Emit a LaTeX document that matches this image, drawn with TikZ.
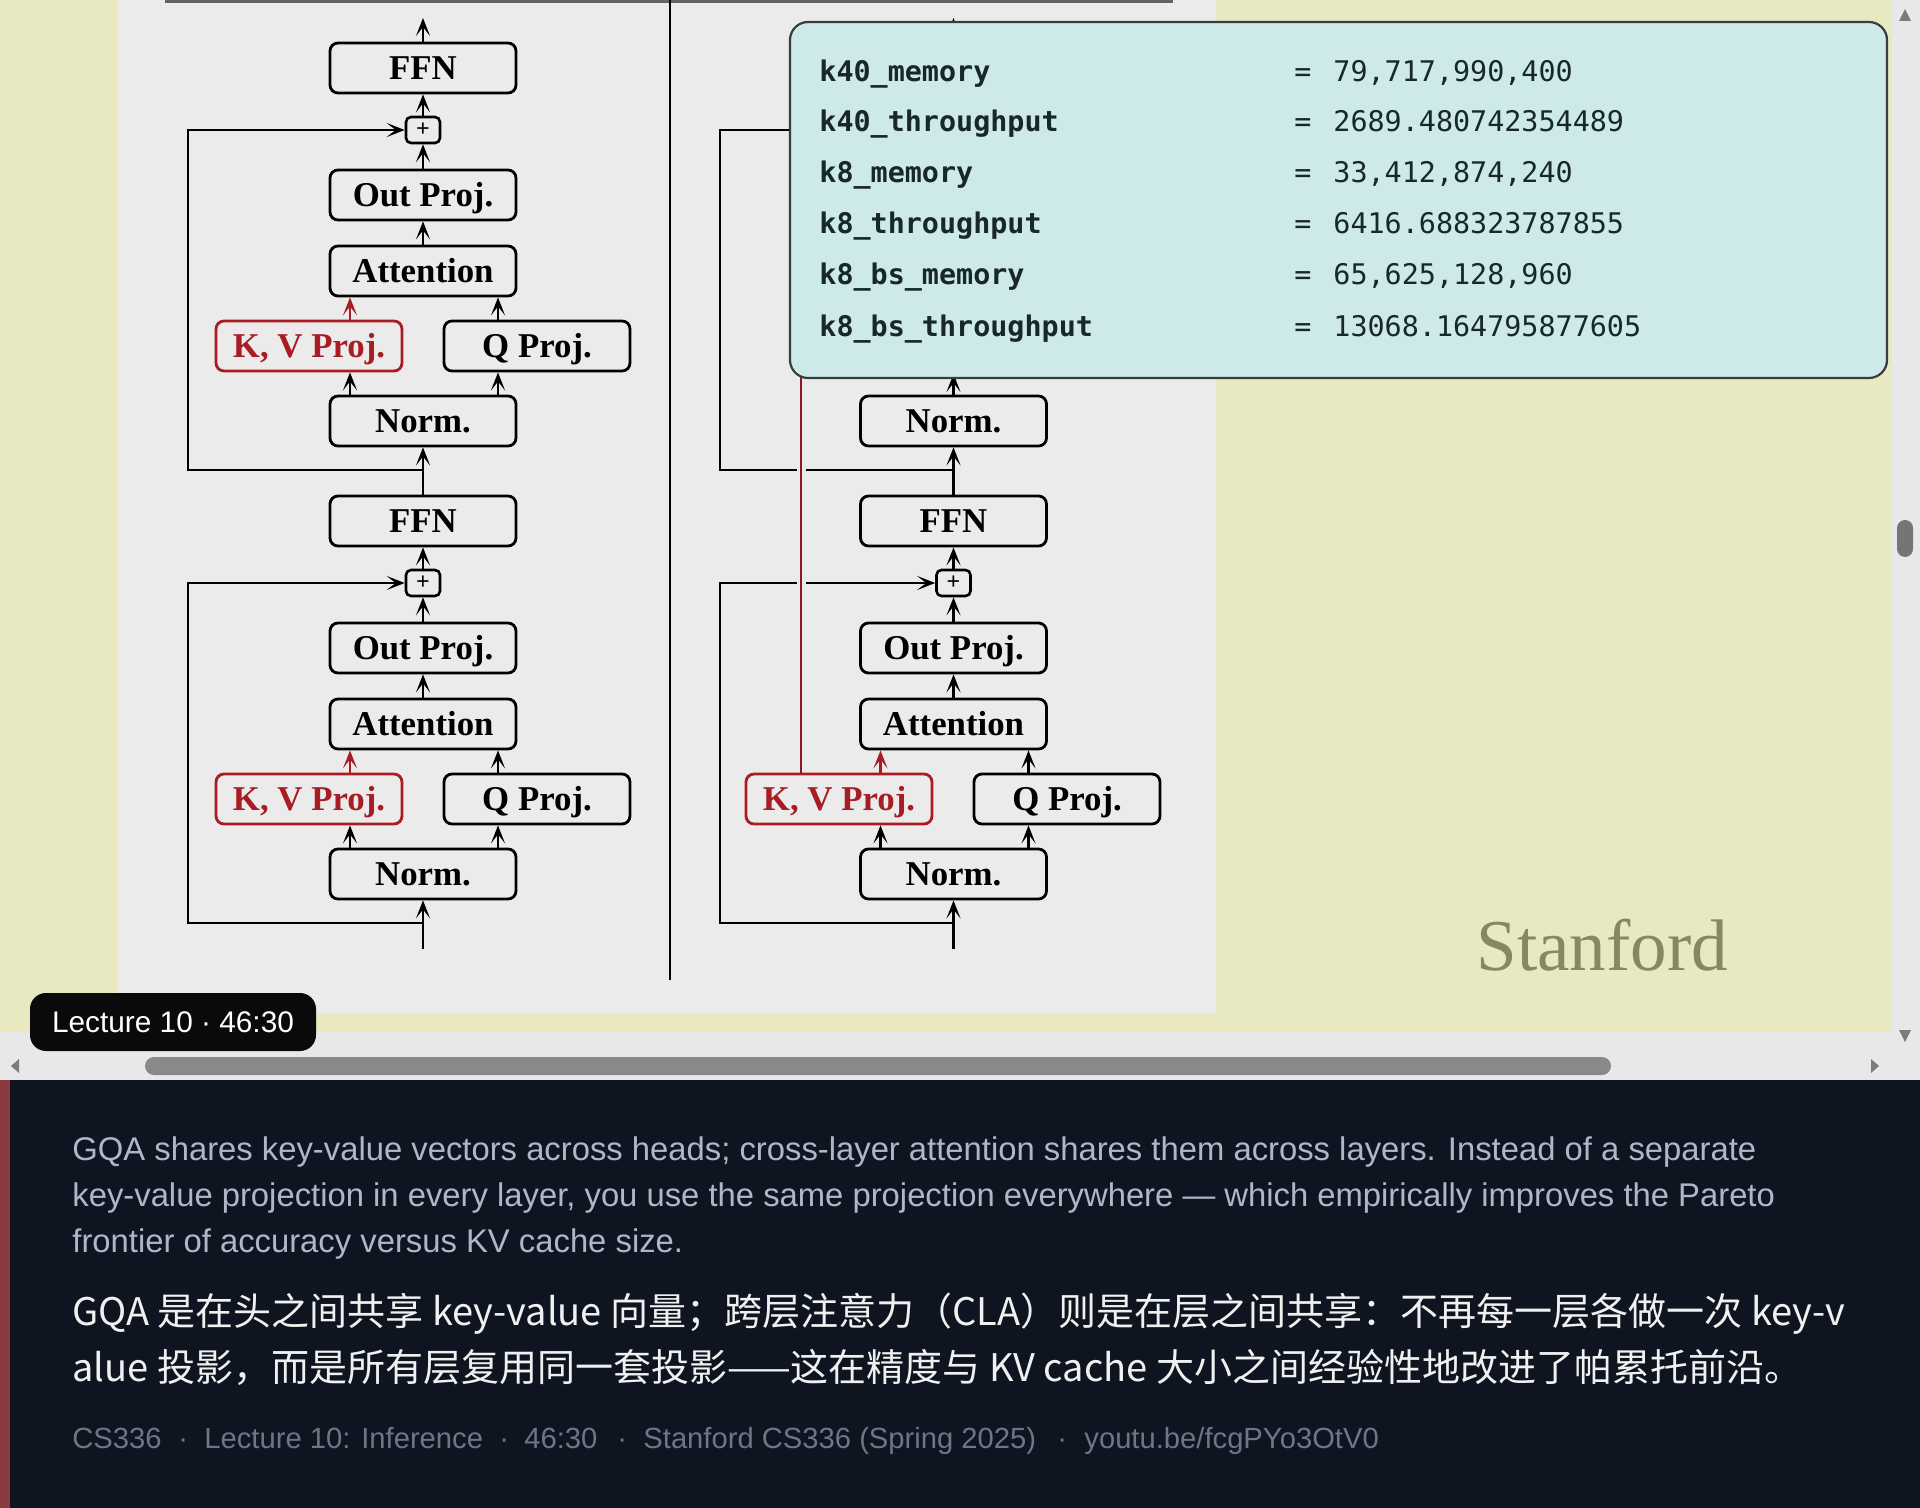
\documentclass[tikz,border=0pt]{standalone}
\usepackage{fontspec}
\setmainfont{Liberation Serif}
\newfontfamily\sansf{Liberation Sans}
\newfontfamily\monof{DejaVu Sans Mono}
\newfontfamily\cjkf{Noto Sans CJK SC}
\usetikzlibrary{arrows.meta}
\definecolor{ylw}{RGB}{232,233,192}
\definecolor{panel}{RGB}{235,235,235}
\definecolor{sbar}{RGB}{232,232,232}
\definecolor{thumb}{RGB}{137,137,137}
\definecolor{kvred}{RGB}{168,28,36}
\definecolor{tipfill}{RGB}{206,234,232}
\definecolor{tipline}{RGB}{55,62,64}
\definecolor{tiptext}{RGB}{24,38,46}
\definecolor{darkbg}{RGB}{15,21,32}
\definecolor{stripe}{RGB}{140,58,64}
\definecolor{captxt}{RGB}{172,184,202}
\definecolor{foot}{RGB}{108,118,135}
\definecolor{stan}{RGB}{135,135,100}
\definecolor{topline}{RGB}{100,100,100}
\begin{document}
\begin{tikzpicture}[x=0.5pt,y=-0.5pt,
  blk/.style={draw=black, line width=1.4pt, rounded corners=4pt, minimum width=93pt, minimum height=25pt, inner sep=0pt, text height=11.4pt, text depth=0pt, font=\fontsize{17.4}{20}\selectfont\bfseries, fill=panel},
  kvblk/.style={blk, draw=kvred, text=kvred},
  plusblk/.style={draw=black, line width=1.3pt, rounded corners=2.5pt, minimum width=17pt, minimum height=13pt, inner sep=0pt, font=\fontsize{12}{12}\selectfont\bfseries, fill=panel},
  ln/.style={line width=1.4pt},
  arr/.style={line width=1.4pt, -{Stealth[length=9pt,width=7pt,inset=4.5pt]}},
  rarr/.style={arr, draw=kvred},
  keyt/.style={anchor=base west, inner sep=0pt, text=tiptext, font=\monof\fontsize{14.2}{16}\selectfont\bfseries},
  valt/.style={anchor=base west, inner sep=0pt, text=tiptext, font=\monof\fontsize{14.2}{16}\selectfont},
  capt/.style={anchor=base west, inner sep=0pt, text=captxt, font=\sansf\fontsize{16.4}{20}\selectfont},
  cjkt/.style={anchor=base west, inner sep=0pt, text=white!94!black, font=\cjkf\fontsize{19}{24}\selectfont},
  foott/.style={anchor=base west, inner sep=0pt, text=foot, font=\sansf\fontsize{14.6}{18}\selectfont},
  tri/.style={fill=thumb!90!black}
]
\useasboundingbox (0,0) rectangle (1920,1508);
% ---------- backgrounds ----------
\fill[ylw] (0,0) rectangle (1892,1032);
\fill[panel] (117,0) rectangle (1216,1013);
\fill[sbar] (1892,0) rectangle (1920,1080);
\fill[sbar] (0,1032) rectangle (1892,1080);
\fill[thumb, rounded corners=4.5pt] (145,1057) rectangle (1611,1075);
\fill[thumb!85!black, rounded corners=4pt] (1897,520) rectangle (1913,557);
\fill[tri] (1899,21) -- (1911,21) -- (1905,9) -- cycle;
\fill[tri] (1899,1030) -- (1911,1030) -- (1905,1042) -- cycle;
\fill[tri] (19,1059) -- (19,1073) -- (11,1066) -- cycle;
\fill[tri] (1871,1059) -- (1871,1073) -- (1879,1066) -- cycle;
\fill[darkbg] (0,1080) rectangle (1920,1508);
\fill[stripe] (0,1080) rectangle (10,1508);
% slide decorations
\draw[topline, line width=1.6pt] (165,1.5) -- (1173,1.5);
\draw[line width=0.7pt] (670,0) -- (670,980);
% ---------- left column ----------
\node[blk] (L1ffn) at (423,68) {FFN};
\node[plusblk] (L1plus) at (423,130) {+};
\node[blk] (L1out) at (423,195) {Out Proj.};
\node[blk] (L1att) at (423,271) {Attention};
\node[kvblk] (L1kv) at (309,346) {K, V Proj.};
\node[blk] (L1q) at (537,346) {Q Proj.};
\node[blk] (L1norm) at (423,421) {Norm.};
\coordinate (L1jn) at (423,470);
\coordinate (L1res) at (188,470);
\node[blk] (L2ffn) at (423,521) {FFN};
\node[plusblk] (L2plus) at (423,583) {+};
\node[blk] (L2out) at (423,648) {Out Proj.};
\node[blk] (L2att) at (423,724) {Attention};
\node[kvblk] (L2kv) at (309,799) {K, V Proj.};
\node[blk] (L2q) at (537,799) {Q Proj.};
\node[blk] (L2norm) at (423,874) {Norm.};
\coordinate (L2jn) at (423,923);
\coordinate (L2res) at (188,923);
\coordinate (Lbot) at (423,949);
\coordinate (Ltop) at (423,18);
% connectors left
\draw[arr] (Lbot) -- (L2norm.south);
\draw[arr] (L2jn) -- (L2res) |- (L2plus.west);
\draw[arr] ([xshift=-36.5pt]L2norm.north) -- ([xshift=-36.5pt]L2norm.north |- L2kv.south);
\draw[arr] ([xshift=37.5pt]L2norm.north) -- ([xshift=37.5pt]L2norm.north |- L2q.south);
\draw[rarr] ([xshift=-36.5pt]L2att.south |- L2kv.north) -- ([xshift=-36.5pt]L2att.south);
\draw[arr] ([xshift=37.5pt]L2att.south |- L2q.north) -- ([xshift=37.5pt]L2att.south);
\draw[arr] (L2att.north) -- (L2out.south);
\draw[arr] (L2out.north) -- (L2plus.south);
\draw[arr] (L2plus.north) -- (L2ffn.south);
\draw[arr] (L2ffn.north) -- (L1norm.south);
\draw[arr] (L1jn) -- (L1res) |- (L1plus.west);
\draw[arr] ([xshift=-36.5pt]L1norm.north) -- ([xshift=-36.5pt]L1norm.north |- L1kv.south);
\draw[arr] ([xshift=37.5pt]L1norm.north) -- ([xshift=37.5pt]L1norm.north |- L1q.south);
\draw[rarr] ([xshift=-36.5pt]L1att.south |- L1kv.north) -- ([xshift=-36.5pt]L1att.south);
\draw[arr] ([xshift=37.5pt]L1att.south |- L1q.north) -- ([xshift=37.5pt]L1att.south);
\draw[arr] (L1att.north) -- (L1out.south);
\draw[arr] (L1out.north) -- (L1plus.south);
\draw[arr] (L1plus.north) -- (L1ffn.south);
\draw[arr] (L1ffn.north) -- (Ltop);
% ---------- right column ----------
\node[blk] (R1norm) at (953.5,421) {Norm.};
\coordinate (R1jn) at (953.5,470);
\coordinate (R1res) at (720,470);
\coordinate (R1resEnd) at (840,130);
\coordinate (R1hid) at (953.5,374);
\coordinate (R1topst) at (953.5,70);
\coordinate (Rtop) at (953.5,18);
\node[blk] (R2ffn) at (953.5,521) {FFN};
\node[plusblk] (R2plus) at (953.5,583) {+};
\node[blk] (R2out) at (953.5,648) {Out Proj.};
\node[blk] (R2att) at (953.5,724) {Attention};
\node[kvblk] (R2kv) at (839,799) {K, V Proj.};
\node[blk] (R2q) at (1067,799) {Q Proj.};
\node[blk] (R2norm) at (953.5,874) {Norm.};
\coordinate (R2jn) at (953.5,923);
\coordinate (R2res) at (720,923);
\coordinate (Rbot) at (953.5,949);
\coordinate (Rred0) at (801,762);
\coordinate (Rred1) at (801,360);
% connectors right
\draw[arr] (Rbot) -- (R2norm.south);
\draw[arr] (R2jn) -- (R2res) |- (R2plus.west);
\draw[arr] ([xshift=-36.5pt]R2norm.north) -- ([xshift=-36.5pt]R2norm.north |- R2kv.south);
\draw[arr] ([xshift=37.5pt]R2norm.north) -- ([xshift=37.5pt]R2norm.north |- R2q.south);
\draw[rarr] ([xshift=-36.5pt]R2att.south |- R2kv.north) -- ([xshift=-36.5pt]R2att.south);
\draw[arr] ([xshift=37.5pt]R2att.south |- R2q.north) -- ([xshift=37.5pt]R2att.south);
\draw[arr] (R2att.north) -- (R2out.south);
\draw[arr] (R2out.north) -- (R2plus.south);
\draw[arr] (R2plus.north) -- (R2ffn.south);
\draw[arr] (R2ffn.north) -- (R1norm.south);
\draw[ln] (R1jn) -- (R1res) |- (R1resEnd);
\draw[arr] (R1norm.north) -- (R1hid);
\draw[arr] (R1topst) -- (Rtop);
% shared K,V line with halo
\draw[draw=panel, line width=4.5pt] (Rred0) -- (Rred1);
\draw[draw=kvred!85!black, line width=1.4pt] (R2kv.north -| Rred0) -- (Rred1);
% ---------- tooltip ----------
\path[draw=tipline, line width=1.1pt, fill=tipfill, rounded corners=9pt] (790,22) rectangle (1887,378);
\node[keyt] (k1) at (819,82) {k40\_memory};
\node[keyt] (k2) at (819,132) {k40\_throughput};
\node[keyt] (k3) at (819,183) {k8\_memory};
\node[keyt] (k4) at (819,234) {k8\_throughput};
\node[keyt] (k5) at (819,285) {k8\_bs\_memory};
\node[keyt] (k6) at (819,336) {k8\_bs\_throughput};
\node[valt] (e1) at (1294,82) {=};
\node[valt] (e2) at (1294,132) {=};
\node[valt] (e3) at (1294,183) {=};
\node[valt] (e4) at (1294,234) {=};
\node[valt] (e5) at (1294,285) {=};
\node[valt] (e6) at (1294,336) {=};
\node[valt] (v1) at (1333,82) {79,717,990,400};
\node[valt] (v2) at (1333,132) {2689.480742354489};
\node[valt] (v3) at (1333,183) {33,412,874,240};
\node[valt] (v4) at (1333,234) {6416.688323787855};
\node[valt] (v5) at (1333,285) {65,625,128,960};
\node[valt] (v6) at (1333,336) {13068.164795877605};
% ---------- Stanford & badge ----------
\node[anchor=base west, inner sep=0pt, text=stan, font=\fontsize{36.5}{40}\selectfont] (stanford) at (1476,970) {Stanford};
\node[fill=black!96, rounded corners=8pt, minimum width=143pt, minimum height=29pt, inner sep=0pt, text=white, font=\sansf\fontsize{14.9}{16}\selectfont] (badge) at (173,1022) {Lecture 10 · 46:30};
% ---------- captions ----------
\node[capt] (c1) at (72,1160) {GQA shares key-value vectors across heads; cross-layer attention shares them across layers. Instead of a separate};
\node[capt] (c2) at (72,1206) {key-value projection in every layer, you use the same projection everywhere — which empirically improves the Pareto};
\node[capt] (c3) at (72,1252) {frontier of accuracy versus KV cache size.};
\node[cjkt] (z1) at (72,1325) {GQA 是在头之间共享 key-value 向量；跨层注意力（CLA）则是在层之间共享：不再每一层各做一次 key-v};
\node[cjkt] (z2) at (72,1381) {alue 投影，而是所有层复用同一套投影——这在精度与 KV cache 大小之间经验性地改进了帕累托前沿。};
\node[foott] (f1) at (72,1448) {CS336};
\node[foott] (f2) at (178,1448) {·};
\node[foott] (f3) at (204,1448) {Lecture 10: Inference};
\node[foott] (f4) at (499,1448) {·};
\node[foott] (f5) at (524,1448) {46:30};
\node[foott] (f6) at (617,1448) {·};
\node[foott] (f7) at (643,1448) {Stanford CS336 (Spring 2025)};
\node[foott] (f8) at (1057,1448) {·};
\node[foott] (f9) at (1084,1448) {youtu.be/fcgPYo3OtV0};
\end{tikzpicture}
\end{document}
